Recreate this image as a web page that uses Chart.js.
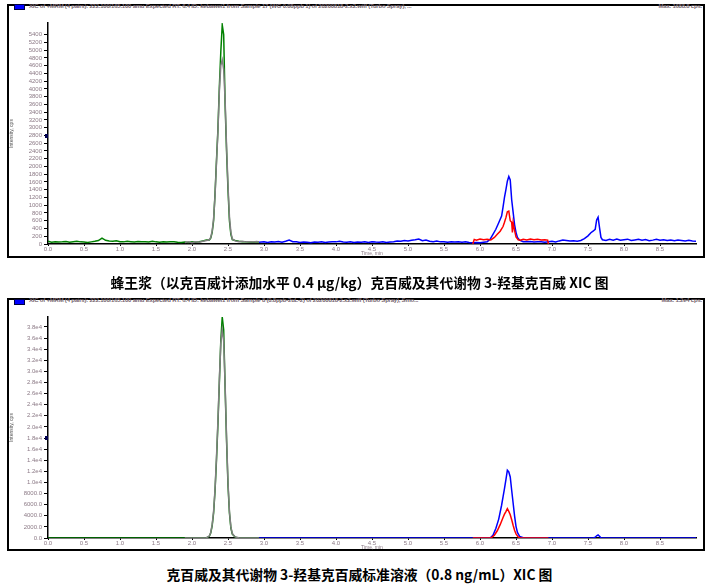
<!DOCTYPE html>
<html><head><meta charset="utf-8">
<script src="https://cdn.jsdelivr.net/npm/chart.js@4.4.1/dist/chart.umd.min.js"></script>
<style>
body{margin:0;background:#fff;width:719px;height:585px;position:relative;overflow:hidden;font-family:"Liberation Sans",Arial,sans-serif}
.box{position:absolute;box-sizing:border-box;border:2px solid #000}
.leg{position:absolute;width:9px;height:4px;background:#0000ff;border:1px solid #000040}
.mk{position:absolute;width:3px;height:4px;background:#000050}
.ttl{position:absolute;font-size:6px;color:#76666f;white-space:nowrap;font-weight:bold;letter-spacing:-0.22px}
.cap{position:absolute;left:0;width:719px;text-align:center;font-family:"Noto Sans CJK SC","Liberation Serif",serif;font-weight:bold;font-size:13.8px;line-height:16px;color:#000}
canvas{position:absolute;left:0}
</style></head><body>
<div class="box" style="left:7px;top:4px;width:698px;height:254px"></div>
<div class="box" style="left:7px;top:298px;width:698px;height:253px"></div>
<div class="leg" style="left:14px;top:4px"></div>
<div class="leg" style="left:14px;top:299px"></div>
<div class="ttl" style="left:29px;top:3px">XIC of +MRM (4 pairs): 222.100/165.100 amu Expected RT: 6.4 ID: kebawei1 from Sample 17 (WG 0.08ppb 1) of 20200818-2.x2.wiff (Turbo Spray), ...</div>
<div class="ttl" style="right:17px;top:3px">Max. 1688.8 cps.</div>
<div class="ttl" style="left:29px;top:297px">XIC of +MRM (4 pairs): 222.100/165.100 amu Expected RT: 6.4 ID: kebawei1 from Sample 8 (0.8ppb-2uL-2) of 20200818-2.x2.wiff (Turbo Spray), Smo...</div>
<div class="ttl" style="right:17px;top:297px">Max. 1.2e4 cps.</div>
<canvas id="c1" width="719" height="258" style="top:0"></canvas>
<canvas id="c2" width="719" height="258" style="top:294px"></canvas>
<div class="mk" style="left:45px;top:134px"></div>
<div class="mk" style="left:45px;top:436px"></div>
<div class="cap" style="top:274px">蜂王浆（以克百威计添加水平 0.4 μg/kg）克百威及其代谢物 3-羟基克百威 XIC 图</div>
<div class="cap" style="top:566px">克百威及其代谢物 3-羟基克百威标准溶液（0.8 ng/mL）XIC 图</div>
<script>
// ---- time grids (min) ----
const timeGreen = [0.00,0.05,0.10,0.15,0.20,0.25,0.30,0.35,0.40,0.45,0.50,0.55,0.60,0.65,0.70,0.75,0.80,0.85,0.90,0.95,
  1.00,1.05,1.10,1.15,1.20,1.25,1.30,1.35,1.40,1.45,1.50,1.55,1.60,1.65,1.70,1.75,1.80,1.85,1.90,1.95,2.00,2.05,2.10,2.15,2.20,
  2.24,2.26,2.28,2.30,2.32,2.34,2.36,2.38,2.40,2.42,2.44,2.46,2.48,2.50,2.52,2.54,2.56,
  2.60,2.65,2.70,2.75,2.80,2.85,2.90,2.93];
const timeGray = [1.90,1.95,2.00,2.05,2.10,2.15,2.20,
  2.24,2.26,2.28,2.30,2.32,2.34,2.36,2.38,2.40,2.42,2.44,2.46,2.48,2.50,2.52,2.54,2.56,
  2.60,2.65,2.70,2.75,2.80,2.85,2.90,2.93];
const timeBlue = [2.93,
  3.00,3.05,3.10,3.15,3.20,3.25,3.30,3.35,3.40,3.45,3.50,3.55,3.60,3.65,3.70,3.75,3.80,3.85,3.90,3.95,
  4.00,4.05,4.10,4.15,4.20,4.25,4.30,4.35,4.40,4.45,4.50,4.55,4.60,4.65,4.70,4.75,4.80,4.85,4.90,4.95,
  5.00,5.05,5.10,5.15,5.20,5.25,5.30,5.35,5.40,5.45,5.50,5.55,5.60,5.65,5.70,5.75,5.80,5.85,5.90,5.95,
  6.00,6.05,6.10,
  6.14,6.18,6.22,6.26,
  6.30,6.32,6.34,6.36,6.38,6.40,6.42,6.44,6.46,6.48,6.50,6.52,
  6.55,
  6.60,6.65,6.70,6.75,6.80,6.85,6.90,6.95,7.00,7.05,7.10,7.15,7.20,7.25,7.30,7.35,7.40,7.45,7.50,
  7.54,7.57,7.60,7.62,7.64,7.66,7.68,7.70,
  7.75,7.80,7.85,7.90,7.95,8.00,8.05,8.10,8.15,8.20,8.25,8.30,8.35,8.40,8.45,8.50,8.55,8.60,8.65,8.70,8.75,8.80,8.85,8.90,8.95,9.00];
const timeRed = [5.90,5.92,5.95,6.00,6.05,6.10,6.15,6.20,
  6.24,6.28,6.32,6.34,6.36,6.38,6.40,6.42,6.44,6.45,6.46,6.48,6.50,
  6.53,6.56,6.60,6.65,6.70,6.75,6.80,6.85,6.90,6.94,6.95];

// ---- top panel: royal jelly sample (cps) ----
const greenTop = [70,45,60,50,55,65,45,60,70,55,50,40,55,70,90,150,95,75,70,85,
  60,55,70,60,50,65,55,60,50,70,55,45,60,50,55,60,45,40,50,40,55,45,60,80,100,
  100,150,300,600,1300,2150,2950,4050,4950,5650,5400,3600,2400,1400,600,250,110,
  90,70,60,55,50,45,55,50];
const grayTop = [40,55,35,60,45,70,90,
  110,170,330,650,1250,2100,2900,3950,4600,4750,4500,3700,2500,1500,700,300,130,
  80,60,70,55,60,50,65,55];
const blueTop = [45,
  60,40,55,50,65,45,70,100,60,55,40,50,45,35,50,45,55,40,50,60,
  55,70,50,45,60,40,50,45,55,40,60,50,45,55,40,50,60,75,70,90,
  80,95,110,130,85,100,70,60,75,55,60,45,55,50,60,45,55,40,35,40,
  30,45,60,
  120,250,380,550,
  720,950,1200,1400,1620,1740,1650,1140,820,500,300,170,
  100,
  60,55,65,50,60,55,45,60,70,55,80,100,90,75,85,70,90,140,210,
  290,330,380,620,690,420,170,110,
  90,120,100,130,95,110,125,90,105,120,95,115,85,100,120,95,110,90,105,85,100,90,80,95,75,70];
const redTop = [0,120,100,130,110,125,105,170,
  250,330,450,560,680,830,850,600,560,300,550,350,180,
  110,100,120,105,130,110,125,105,110,100,0];

// ---- bottom panel: standard solution (cps) ----
const greenBot = [0,0,0,0,0,0,0,0,0,0,0,0,0,0,0,0,0,0,0,0,
  0,0,0,0,0,0,0,0,0,0,0,0,0,0,0,0,0,0,0,0,0,0,0,0,0,
  300,900,2200,4500,8500,14000,20500,28000,35500,39800,37500,27000,17500,9500,4500,1800,700,
  150,0,0,0,0,0,0,0];
const grayBot = [0,0,0,0,0,0,50,
  350,1000,2400,4800,8800,14500,21000,28500,35000,37500,35500,27500,18000,10000,4800,2000,800,
  200,50,0,0,0,0,0,0];
const blueBot = [0,
  0,0,0,0,0,0,0,0,0,0,0,0,0,0,0,0,0,0,0,0,
  0,0,0,0,0,0,0,0,0,0,0,0,0,0,0,0,0,0,0,0,
  0,0,0,0,0,0,0,0,0,0,0,0,0,0,0,0,0,0,0,0,
  0,0,0,
  0,500,1700,3400,
  5900,7400,8900,10500,12200,11900,11000,8600,6300,4000,2100,1000,
  300,
  50,0,0,0,0,0,0,0,0,0,0,0,0,0,0,0,0,0,0,
  0,0,150,400,550,300,50,0,
  0,0,0,0,0,0,0,0,0,0,0,0,0,0,0,0,0,0,0,0,0,0,0,0,0,0];
const redBot = [0,0,0,0,0,0,0,500,
  1300,2400,3700,4300,4750,5300,4800,4200,3300,2800,2300,1400,750,
  200,0,0,0,0,0,0,0,0,0,0];

// ---- axis tick values ----
const xTicks = [0.0,0.5,1.0,1.5,2.0,2.5,3.0,3.5,4.0,4.5,5.0,5.5,6.0,6.5,7.0,7.5,8.0,8.5];
const xMin = 0, xMax = 9.0;
const yTopTicks = [0,200,400,600,800,1000,1200,1400,1600,1800,2000,2200,2400,2600,2800,3000,3200,3400,3600,3800,4000,4200,4400,4600,4800,5000,5200,5400];
const yTopMax = 5700;
const yBotTicks = [0,2000,4000,6000,8000,10000,12000,14000,16000,18000,20000,22000,24000,26000,28000,30000,32000,34000,36000,38000];
const yBotMax = 39800;

const COLORS = {green:'#008000', gray:'#808080', blue:'#0000ff', red:'#ff0000'};
const tickColor = '#8c7a86';

function pts(t, v){ return t.map((x,i)=>({x:x, y:v[i]})); }
function ds(t, v, c){ return {data:pts(t,v), borderColor:c, borderWidth:1.5, pointRadius:0, tension:0, fill:false}; }

function makeChart(id, sets, yMax, yTicks, fmt){
  new Chart(document.getElementById(id), {
    type:'line',
    data:{datasets:sets},
    options:{
      responsive:false, animation:false, devicePixelRatio:1,
      layout:{padding:{top:23,right:23,left:0,bottom:0}},
      plugins:{legend:{display:false}, tooltip:{enabled:false}},
      scales:{
        x:{type:'linear', min:xMin, max:xMax,
           afterBuildTicks:(s)=>{s.ticks = xTicks.map(v=>({value:v}));},
           afterFit:(s)=>{s.height=14;},
           border:{color:'#000', width:1.5},
           grid:{drawOnChartArea:false, drawTicks:true, tickLength:2, tickColor:'#000'},
           ticks:{padding:0, maxRotation:0, autoSkip:false, color:tickColor,
                  font:{size:6, family:'"Liberation Sans", Arial'},
                  callback:(v)=>v.toFixed(1)},
           title:{display:true, text:'Time, min', color:tickColor, font:{size:5, family:'"Liberation Sans", Arial'}, padding:{top:0,bottom:1.5}}
        },
        y:{min:0, max:yMax,
           afterBuildTicks:(s)=>{s.ticks = yTicks.map(v=>({value:v}));},
           afterFit:(s)=>{s.width=48;},
           border:{color:'#000', width:1.5},
           grid:{drawOnChartArea:false, drawTicks:true, tickLength:4, tickColor:'#000'},
           ticks:{padding:2, autoSkip:false, color:tickColor,
                  font:{size:6, family:'"Liberation Sans", Arial'},
                  callback:fmt},
           title:{display:true, text:'Intensity, cps', color:'#555', font:{size:5, family:'"Liberation Sans", Arial'}, padding:{top:8.5,bottom:0}}
        }
      }
    }
  });
}

makeChart('c1', [
  ds(timeRed, redTop, COLORS.red),
  ds(timeGray, grayTop, COLORS.gray),
  ds(timeBlue, blueTop, COLORS.blue),
  ds(timeGreen, greenTop, COLORS.green)
], yTopMax, yTopTicks, (v)=>String(v));

makeChart('c2', [
  ds(timeRed, redBot, COLORS.red),
  ds(timeGray, grayBot, COLORS.gray),
  ds(timeBlue, blueBot, COLORS.blue),
  ds(timeGreen, greenBot, COLORS.green)
], yBotMax, yBotTicks, (v)=> v>=10000 ? (v/10000).toFixed(1)+'e4' : v.toFixed(1));
</script>
</body></html>
